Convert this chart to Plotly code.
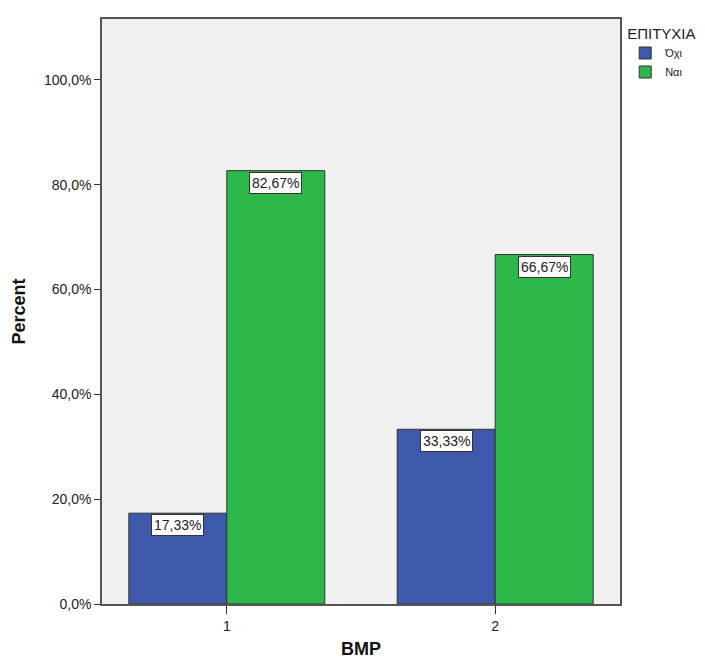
import plotly.graph_objects as go

categories = [1, 2]
series_names = ["Όχι", "Ναι"]
oxi_values = [17.33, 33.33]
nai_values = [82.67, 66.67]
y_tick_values = [0, 20, 40, 60, 80, 100]
y_tick_labels = ["0,0%", "20,0%", "40,0%", "60,0%", "80,0%", "100,0%"]

colors = ["#3E58AC", "#2EB84B"]
bargap = 0.27
bar_w = (1 - bargap) / 2

fig = go.Figure()
for name, vals, col in zip(series_names, [oxi_values, nai_values], colors):
    fig.add_trace(go.Bar(
        x=categories, y=vals, name=name,
        marker=dict(color=col, line=dict(color="#333333", width=1)),
        width=bar_w,
    ))

# label boxes at top of each bar
for i, vals in enumerate([oxi_values, nai_values]):
    offset = (i - 0.5) * bar_w
    for c, v in zip(categories, vals):
        fig.add_annotation(
            x=c + offset, y=v, xref="x", yref="y",
            text=f"{v:.2f}%".replace(".", ","),
            showarrow=False, yanchor="top", xanchor="center",
            bgcolor="white", bordercolor="#333333", borderwidth=1, borderpad=2,
            font=dict(family="Liberation Sans, Arial", size=14, color="#222222"),
            yshift=-1,
        )

fig.update_layout(
    width=705, height=662,
    barmode="group", bargap=bargap, bargroupgap=0,
    paper_bgcolor="white", plot_bgcolor="#F0F0F0",
    margin=dict(l=93, r=93, t=9, b=66),
    font=dict(family="Liberation Sans, Arial", color="#222222", size=14),
    legend=dict(
        title=dict(text="ΕΠΙΤΥΧΙΑ", font=dict(size=15)),
        x=1.01, xanchor="left", y=1.0, yanchor="top",
        font=dict(size=11), tracegroupgap=0, itemwidth=30,
        bgcolor="rgba(0,0,0,0)",
    ),
    xaxis=dict(
        tickmode="array", tickvals=categories, ticktext=[str(c) for c in categories],
        range=[0.535, 2.465], showline=True, mirror=True, linecolor="#555555", linewidth=1.5,
        ticks="outside", ticklen=8, tickcolor="#333333", showgrid=False, zeroline=False,
        title=dict(text="<b>BMP</b>", font=dict(size=18, color="#111111"), standoff=10),
        tickfont=dict(size=14),
    ),
    yaxis=dict(
        tickmode="array", tickvals=y_tick_values, ticktext=y_tick_labels,
        range=[0, 111.6], showline=True, mirror=True, linecolor="#555555", linewidth=1.5,
        ticks="outside", ticklen=6, tickcolor="#333333", showgrid=False, zeroline=False,
        title=dict(text="<b>Percent</b>", font=dict(size=18, color="#111111"), standoff=14),
        tickfont=dict(size=14),
    ),
)

fig.write_html("out.html")
